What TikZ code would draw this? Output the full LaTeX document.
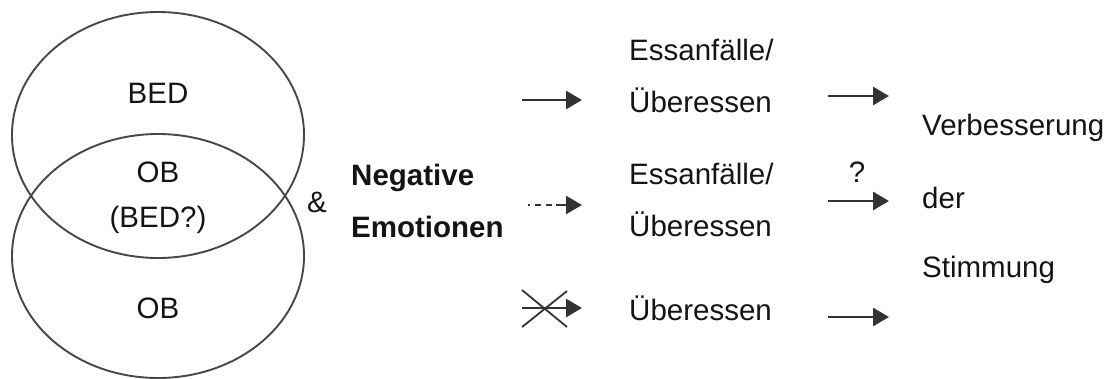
\documentclass[tikz,border=0pt]{standalone}
\usepackage{fontspec}
\setmainfont{Liberation Sans}
\usetikzlibrary{arrows.meta}
\definecolor{ln}{HTML}{333333}
\definecolor{tx}{HTML}{141414}
\begin{document}
\begin{tikzpicture}[x=1pt,y=-1pt,
  lbl/.style={inner sep=0pt,anchor=base west,text=tx,font=\fontsize{29.5}{34}\selectfont},
  clbl/.style={lbl,anchor=base},
  venn/.style={draw=ln!90,line width=1.9pt},
  arr/.style={draw=ln,line width=2.8pt,-{Triangle[length=16pt,width=18pt]}},
  crossline/.style={draw=ln,line width=1.8pt}]
\useasboundingbox (0,0) rectangle (1110,378);
% Venn
\draw[venn] (158,135) ellipse [x radius=146,y radius=123];
\draw[venn] (158,256) ellipse [x radius=146,y radius=122];
\node[clbl] (bed) at (158,103) {BED};
\node[clbl] (ob1) at (158,182) {OB};
\node[clbl] (bedq) at (158,227) {(BED?)};
\node[clbl] (ob2) at (158,318) {OB};
\node[lbl] (amp) at (307,212) {\&};
\node[lbl,font=\fontsize{29.5}{34}\selectfont\bfseries] (neg) at (351,185) {Negative};
\node[lbl,font=\fontsize{29.5}{34}\selectfont\bfseries] (emo) at (351,237) {Emotionen};
% middle column
\node[lbl] (e1) at (629,60) {Essanfälle/};
\node[lbl] (u1) at (629,112) {Überessen};
\node[lbl] (e2) at (629,184) {Essanfälle/};
\node[lbl] (u2) at (629,236) {Überessen};
\node[lbl] (u3) at (629,320) {Überessen};
% right column
\node[lbl] (v) at (922,135) {Verbesserung};
\node[lbl] (d) at (922,208) {der};
\node[lbl] (s) at (922,277) {Stimmung};
\node[clbl] (q) at (857,182) {?};
% arrow coordinates
\coordinate (a1s) at (522,100); \coordinate (a1e) at (582,100);
\coordinate (a2s) at (528,205); \coordinate (a2e) at (582,205);
\coordinate (a3s) at (522,308); \coordinate (a3e) at (582,308);
\coordinate (b1s) at (828,96);  \coordinate (b1e) at (889,96);
\coordinate (b2s) at (828,201); \coordinate (b2e) at (889,201);
\coordinate (b3s) at (828,317); \coordinate (b3e) at (889,317);
\coordinate (x1) at (522,290); \coordinate (x2) at (567,327);
\coordinate (x3) at (522,327); \coordinate (x4) at (567,291);
\draw[arr,line width=2.4pt,dash pattern=on 2pt off 5pt on 6pt off 5pt on 6pt off 4pt on 20pt] (a2s) -- (a2e);
\draw[arr] (a1s) -- (a1e);
\draw[arr] (a3s) -- (a3e);
\draw[crossline] (x1) -- (x2);
\draw[crossline] (x3) -- (x4);
\draw[arr] (b1s) -- (b1e);
\draw[arr] (b2s) -- (b2e);
\draw[arr] (b3s) -- (b3e);
\end{tikzpicture}
\end{document}
